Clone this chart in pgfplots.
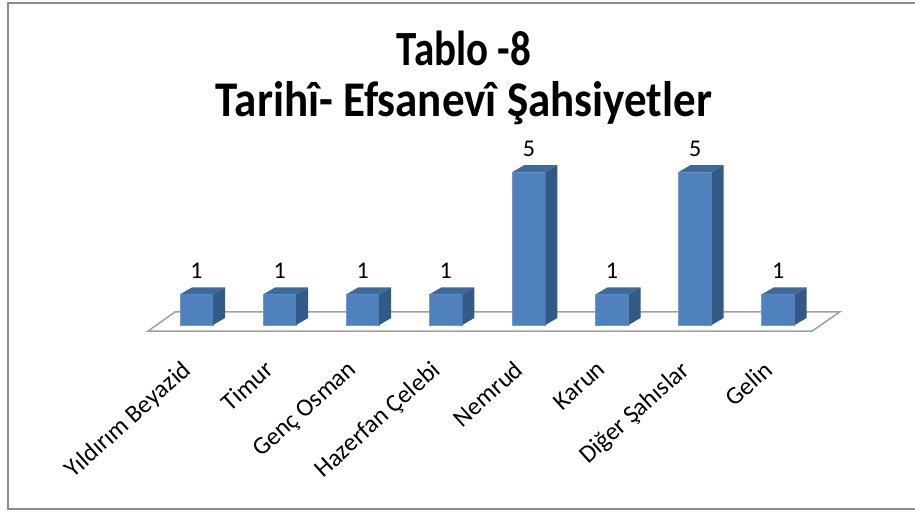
\documentclass[border=0pt]{standalone}
\usepackage{pgfplots}
\usepackage{pgfplotstable}
\pgfplotsset{compat=1.18}
\usepackage{fontspec}
\setmainfont{Carlito}
\definecolor{frontc}{HTML}{4F81BD}
\definecolor{sidec}{HTML}{325A87}
\definecolor{topc}{HTML}{3D6A9E}
\definecolor{floorc}{HTML}{A0A0A0}
\definecolor{borderc}{HTML}{8C8C8C}
\pgfdeclareplotmark{bar3d}{%
  \pgfmathsetlengthmacro\Hb{-\barval*30.6pt}%
  \pgfmathsetlengthmacro\Hc{7pt-\barval*30.6pt}%
  \pgfsetfillcolor{sidec}%
  \pgfpathmoveto{\pgfpoint{16.5pt}{0pt}}%
  \pgfpathlineto{\pgfpoint{28.5pt}{7pt}}%
  \pgfpathlineto{\pgfpoint{28.5pt}{\Hc}}%
  \pgfpathlineto{\pgfpoint{16.5pt}{\Hb}}%
  \pgfpathclose
  \pgfusepath{fill}%
  \pgfsetfillcolor{topc}%
  \pgfpathmoveto{\pgfpoint{-16.5pt}{0pt}}%
  \pgfpathlineto{\pgfpoint{16.5pt}{0pt}}%
  \pgfpathlineto{\pgfpoint{28.5pt}{7pt}}%
  \pgfpathlineto{\pgfpoint{-4.5pt}{7pt}}%
  \pgfpathclose
  \pgfusepath{fill}%
}
\pgfplotstableread{
x y
0 1
1 1
2 1
3 1
4 5
5 1
6 5
7 1
}\datatable
\begin{document}
\begin{tikzpicture}
\useasboundingbox (0,0) rectangle (915pt,512pt);
\clip (0,0) rectangle (915pt,512pt);
\fill[white] (0,0) rectangle (915pt,512pt);
\draw[borderc, line width=1.5pt] (8pt,3pt) rectangle (940pt,509pt);
\node[font=\fontsize{41}{41}\selectfont\bfseries, anchor=base, yscale=1.2] at (464pt,446pt) {Tablo -8};
\node[font=\fontsize{45}{45}\selectfont\bfseries, anchor=base, yscale=1.11] at (464pt,395pt) {Tarihî- Efsanevî Şahsiyetler};
\begin{axis}[
  at={(196.5pt,187pt)}, anchor=origin,
  x=83.1pt, y=30.6pt,
  xmin=-0.8, xmax=7.9, ymin=-1.08, ymax=6,
  axis line style={draw=none},
  major tick length=0pt,
  ytick=\empty,
  xtick={0,...,7},
  xticklabels={Yıldırım Beyazid, Timur, Genç Osman, Hazerfan Çelebi, Nemrud, Karun, Diğer Şahıslar, Gelin},
  xticklabel style={xshift=-16pt, yshift=-1pt, rotate=42, anchor=north east, inner sep=0pt, font=\fontsize{25}{25}\selectfont},
  clip=false,
  /pgf/number format/assume math mode=true,
]
\draw[floorc, fill=white, line width=1.5pt] (axis cs:-0.584,-0.2) -- (axis cs:7.407,-0.2) -- (axis cs:7.74,0.425) -- (axis cs:-0.259,0.425) -- cycle;
\addplot[ybar, bar width=33pt, bar shift=0pt, fill=frontc, draw=frontc!80!white, line width=0.6pt,
  nodes near coords,
  nodes near coords style={anchor=base, inner sep=0pt, yshift=16pt, font=\fontsize{24}{24}\selectfont, text=black}]
  table[x=x, y=y] {\datatable};
\addplot[only marks, mark=bar3d, visualization depends on={rawy \as \barval}]
  table[x=x, y=y] {\datatable};
\end{axis}
\end{tikzpicture}
\end{document}
